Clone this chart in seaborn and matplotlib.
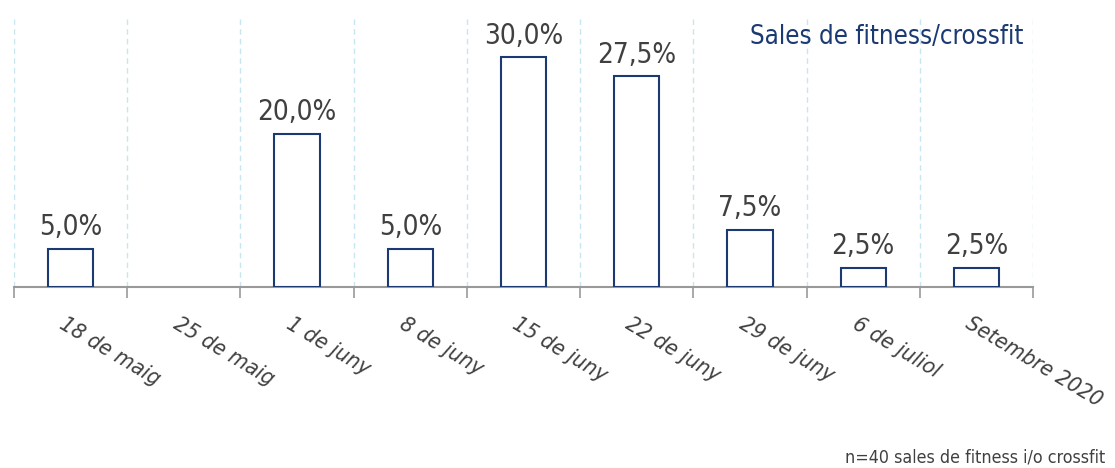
import matplotlib
matplotlib.use("Agg")
import matplotlib.pyplot as plt
import numpy as np
import pandas as pd
import seaborn as sns

# Data
dates = ["18 de maig", "25 de maig", "1 de juny", "8 de juny", "15 de juny",
         "22 de juny", "29 de juny", "6 de juliol", "Setembre 2020"]
pct = [5.0, 0.0, 20.0, 5.0, 30.0, 27.5, 7.5, 2.5, 2.5]
title = "Sales de fitness/crossfit"
note = "n=40 sales de fitness i/o crossfit"

NAVY = "#1b3a73"
GREY = "#404040"

sns.set_style("white")
plt.rcParams['font.family'] = ['DejaVu Sans']
plt.rcParams['font.stretch'] = 'condensed'

df = pd.DataFrame({"date": dates, "pct": pct})

fig = plt.figure(figsize=(11.15, 4.68), dpi=100)
ax = fig.add_axes([14 / 1115, (468 - 287) / 468, (1033 - 14) / 1115, (287 - 19) / 468])

sns.barplot(data=df, x="date", y="pct", color="white", edgecolor=NAVY,
            linewidth=1.5, width=0.4, saturation=1, ax=ax, zorder=3)
# a zero bar should not leave a stroke on the baseline
for patch in ax.patches:
    if patch.get_height() == 0:
        patch.set_linewidth(0)

ax.set_xlim(-0.5, len(dates) - 0.5)
ax.set_ylim(0, 35)

# value labels
for i, v in enumerate(pct):
    if v > 0:
        ax.text(i, v + 1.0, f"{v:.1f}%".replace(".", ","), ha="center", va="bottom",
                fontsize=20, color=GREY)

# dashed separators between categories
bounds = np.arange(-0.5, len(dates), 1.0)
ax.set_xticks(bounds, minor=True)
ax.grid(which="minor", axis="x", color="#c8e6f1", linestyle=(0, (4, 3)), linewidth=1)
ax.grid(which="major", visible=False)
ax.tick_params(axis="x", which="minor", length=8, width=1.2, color="#999999", bottom=True)
ax.tick_params(axis="x", which="major", length=0, pad=19)

ax.set_xticks(range(len(dates)))
ax.set_xticklabels(dates, rotation=-31, ha="left", rotation_mode="anchor",
                   fontsize=16, color=GREY, style="italic")
offset = matplotlib.transforms.ScaledTranslation(-4 / 100, 0, fig.dpi_scale_trans)
for lbl in ax.get_xticklabels():
    lbl.set_transform(lbl.get_transform() + offset)

ax.set_yticks([])
ax.set_xlabel("")
ax.set_ylabel("")
for s in ["top", "left", "right"]:
    ax.spines[s].set_visible(False)
ax.spines["bottom"].set_color("#999999")
ax.spines["bottom"].set_linewidth(1.5)

fig.text(1023 / 1115, 1 - 37 / 468, title, ha="right", va="center",
         fontsize=18.5, color=NAVY)
fig.text(1105 / 1115, 1 - 457 / 468, note, ha="right", va="center",
         fontsize=12.8, color=GREY)

fig.savefig("out.png", dpi=100)
